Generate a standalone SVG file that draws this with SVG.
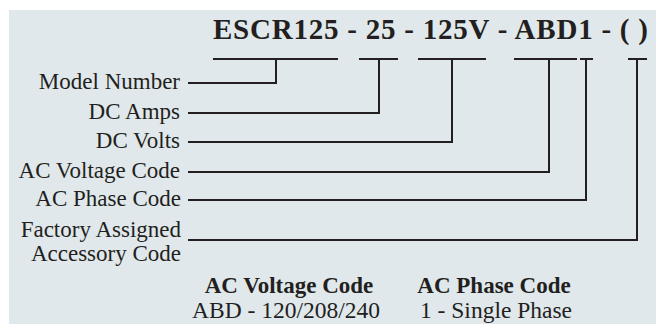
<svg xmlns="http://www.w3.org/2000/svg" width="656" height="324" viewBox="0 0 656 324">
<style>
text{font-family:'Liberation Serif','Times New Roman','DejaVu Serif',serif;fill:#231f20}
.lbl{font-size:23px;text-anchor:end}
.ttl{font-size:29px;font-weight:bold}
.hd{font-size:23px;font-weight:bold;text-anchor:middle}
.tx{font-size:23.5px;text-anchor:middle}
.ln{fill:none;stroke:#231f20;stroke-width:2;stroke-linejoin:miter;stroke-linecap:butt}
</style>
<rect x="0" y="0" width="656" height="324" fill="#ffffff"/>
<rect x="9" y="10" width="647" height="314" fill="#e0e8eb"/>
<g id="title">
<text class="ttl" x="213" y="39" textLength="435" lengthAdjust="spacing">ESCR125 - 25 - 125V - ABD1 - ( )</text>
</g>
<g id="connectors">
<path class="ln" d="M213 59H338"/>
<path class="ln" d="M359 59H398"/>
<path class="ln" d="M418 59H486"/>
<path class="ln" d="M514 59H577"/>
<path class="ln" d="M580 59H593"/>
<path class="ln" d="M628 59H647"/>
<path class="ln" d="M276 59V83H188"/>
<path class="ln" d="M379 59V113H188"/>
<path class="ln" d="M452 59V142H188"/>
<path class="ln" d="M549 59V172H188"/>
<path class="ln" d="M586 59V200H188"/>
<path class="ln" d="M637 59V240H188"/>
</g>
<g id="model-number"><text class="lbl" x="180" y="89">Model Number</text></g>
<g id="dc-amps"><text class="lbl" x="180" y="119">DC Amps</text></g>
<g id="dc-volts"><text class="lbl" x="180" y="148">DC Volts</text></g>
<g id="ac-voltage-code"><text class="lbl" x="180" y="178">AC Voltage Code</text></g>
<g id="ac-phase-code"><text class="lbl" x="181" y="206">AC Phase Code</text></g>
<g id="factory-code"><text class="lbl" x="181" y="237">Factory Assigned</text><text class="lbl" x="181" y="261">Accessory Code</text></g>
<g id="voltage-legend"><text class="hd" x="289" y="293">AC Voltage Code</text><text class="tx" x="286" y="318">ABD - 120/208/240</text></g>
<g id="phase-legend"><text class="hd" x="494" y="293">AC Phase Code</text><text class="tx" x="496" y="318">1 - Single Phase</text></g>
</svg>
